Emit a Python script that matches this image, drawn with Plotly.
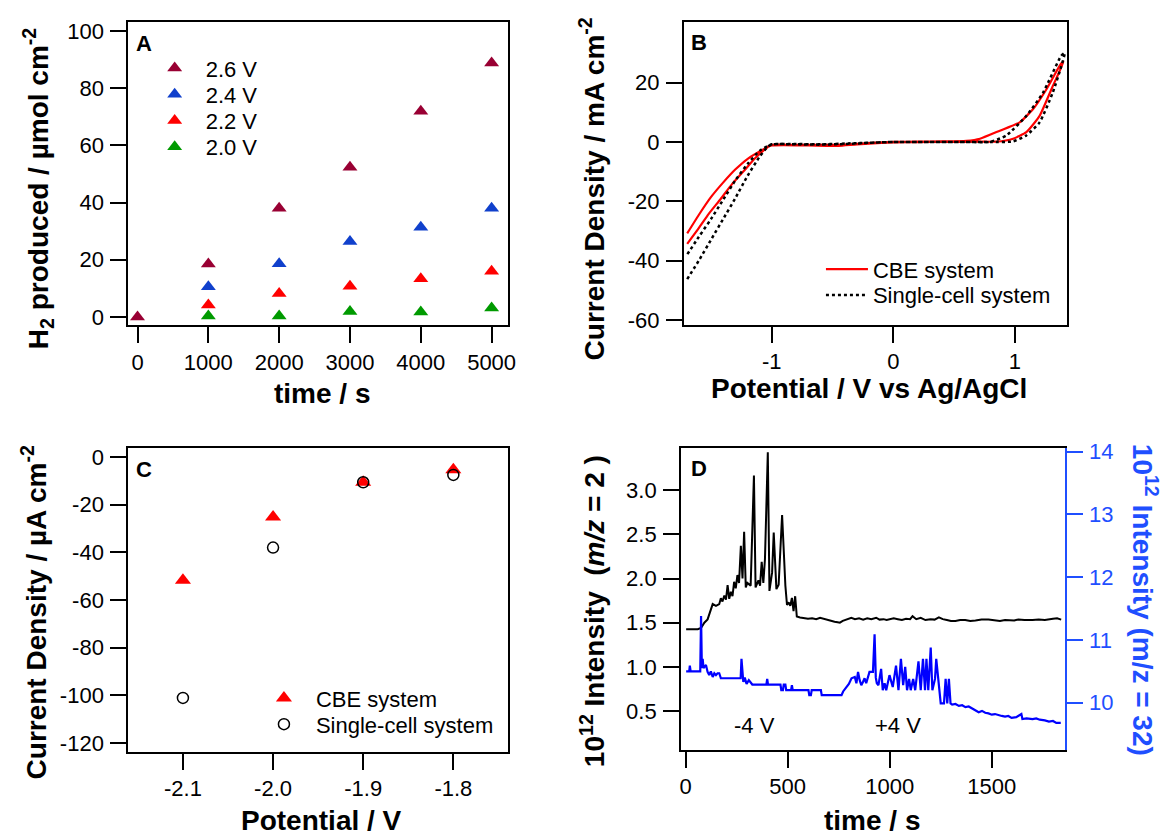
import plotly.graph_objects as go

W, H = 1171, 837
FONT = "Liberation Sans, Arial, Helvetica, sans-serif"

# ---------------- Panel A : H2 produced vs time ----------------
a_time = [0, 1000, 2000, 3000, 4000, 5000]
a_h2_26 = [0.0, 18.5, 38.0, 52.3, 71.9, 88.8]
a_time_low = [1000, 2000, 3000, 4000, 5000]
a_h2_24 = [10.6, 18.6, 26.4, 31.4, 38.0]
a_h2_22 = [4.2, 8.2, 10.7, 13.4, 16.0]
a_h2_20 = [0.3, 0.3, 1.9, 1.7, 3.1]
a_xticks = [0, 1000, 2000, 3000, 4000, 5000]
a_yticks = [0, 20, 40, 60, 80, 100]

# ---------------- Panel B : cyclic voltammograms ----------------
cbe_potential = [-1.695, -1.60, -1.518, -1.42, -1.328, -1.23, -1.137, -1.06, -1.029, -1.0,
                 -0.9, -0.7, -0.55, -0.45, -0.3, -0.1, 0.1, 0.3, 0.5, 0.7, 0.85,
                 0.985, 1.094, 1.203, 1.31, 1.40,
                 1.38, 1.257, 1.148, 1.039, 0.876, 0.713, 0.6, 0.4, 0.2, 0.0,
                 -0.2, -0.4, -0.6, -0.8, -1.0, -1.056, -1.192, -1.30, -1.40, -1.50, -1.60, -1.695]
cbe_current = [-34.3, -29.0, -24.2, -19.2, -14.3, -9.8, -5.5, -2.6, -1.6, -1.2,
               -1.1, -1.2, -1.3, -1.3, -0.8, -0.3, -0.1, 0.0, 0.0, 0.1, 0.1,
               1.1, 3.3, 8.8, 18.7, 27.0,
               26.4, 17.6, 11.0, 6.6, 3.8, 1.1, 0.4, 0.2, 0.1, 0.0,
               -0.4, -0.9, -1.0, -1.0, -1.0, -2.2, -5.5, -9.3, -13.7, -18.6, -24.6, -30.8]
sc_potential = [-1.695, -1.60, -1.50, -1.40, -1.30, -1.20, -1.10, -1.03, -1.0,
                -0.8, -0.6, -0.4, -0.2, 0.0, 0.3, 0.6, 0.8, 0.985,
                1.094, 1.203, 1.31, 1.38, 1.41,
                1.38, 1.23, 1.094, 0.93, 0.795, 0.6, 0.3, 0.0,
                -0.3, -0.6, -0.8, -1.0, -1.1, -1.2, -1.3, -1.4, -1.5, -1.6, -1.695]
sc_current = [-46.2, -40.0, -33.0, -26.0, -19.0, -11.5, -5.0, -1.5, -0.8,
              -0.8, -0.9, -0.7, -0.3, 0.0, 0.0, 0.0, 0.0, 0.2,
              2.2, 6.6, 16.5, 25.3, 30.0,
              29.0, 16.5, 8.8, 2.2, 0.0, 0.0, 0.0, 0.0,
              -0.4, -0.8, -0.7, -0.8, -3.0, -7.5, -13.0, -19.5, -26.0, -32.0, -37.9]
b_xticks = [-1, 0, 1]
b_xlabels = ["-1", "0", "1"]
b_yticks = [-60, -40, -20, 0, 20]
b_ylabels = ["-60", "-40", "-20", "0", "20"]

# ---------------- Panel C : current density vs potential ----------------
c_potential = [-2.1, -2.0, -1.9, -1.8]
c_cbe = [-51.7, -25.2, -10.6, -5.3]
c_single = [-101.1, -38.0, -10.6, -7.5]
c_xticks = [-2.1, -2.0, -1.9, -1.8]
c_xlabels = ["-2.1", "-2.0", "-1.9", "-1.8"]
c_yticks = [-120, -100, -80, -60, -40, -20, 0]
c_ylabels = ["-120", "-100", "-80", "-60", "-40", "-20", "0"]

# ---------------- Panel D : mass spec intensities ----------------
d_time_h2 = [3, 30, 60, 76, 92, 108, 125, 133, 149, 165, 173, 181, 190, 198, 206, 214, 222, 230,
             238, 246, 254, 262, 271, 279, 287, 295, 303, 319, 335, 343, 357, 365, 373, 381, 389,
             403, 411, 424, 432, 445, 456, 473, 489, 497, 505, 513, 521, 529, 537, 545, 561, 578,
             600, 620, 640, 659, 680, 700, 715, 730, 745, 756, 770, 785, 800, 812, 830, 850, 870,
             890, 910, 934, 950, 970, 985, 999, 1020, 1040, 1060, 1080, 1100, 1112, 1130, 1152,
             1175, 1200, 1220, 1241, 1260, 1280, 1300, 1322, 1345, 1370, 1395, 1420, 1450, 1484,
             1510, 1540, 1565, 1590, 1610, 1630, 1660, 1700, 1730, 1760, 1780, 1800, 1820, 1840]
d_h2 = [1.427, 1.43, 1.427, 1.44, 1.50, 1.537, 1.667, 1.711, 1.69, 1.71, 1.778, 1.74, 1.808, 1.76,
        1.926, 1.77, 1.85, 1.80, 1.963, 1.89, 2.04, 1.95, 2.37, 2.0, 2.53, 1.90, 1.95, 1.92, 3.167,
        1.90, 1.98, 1.92, 2.19, 1.95, 2.22, 3.43, 1.86, 2.07, 2.52, 1.88, 1.93, 2.72, 1.92, 1.70,
        1.73, 1.69, 1.78, 1.63, 1.80, 1.57, 1.56, 1.556,
        1.545, 1.55, 1.54, 1.556, 1.54, 1.53, 1.52, 1.51, 1.505, 1.50, 1.52, 1.53,
        1.545, 1.556, 1.54, 1.55, 1.535, 1.55, 1.54, 1.556, 1.535, 1.54, 1.53, 1.537,
        1.55, 1.54, 1.53, 1.545, 1.54, 1.574, 1.54, 1.556, 1.53, 1.54, 1.535, 1.56,
        1.54, 1.53, 1.52, 1.52, 1.53, 1.53, 1.52, 1.525, 1.535, 1.537, 1.53, 1.52,
        1.53, 1.53, 1.525, 1.537, 1.53, 1.53, 1.535, 1.53, 1.54, 1.545, 1.55, 1.535]
d_time_o2 = [3, 18, 21, 25, 68, 72, 76, 80, 84, 88, 92, 100, 108, 116, 124, 133, 141, 149, 157,
             165, 173, 190, 262, 270, 274, 279, 283, 290, 299, 310, 327, 392, 396, 400, 404, 465,
             469, 477, 481, 489, 493, 517, 521, 525, 602, 606, 614, 618, 663, 667, 764, 772, 788,
             800, 813, 829, 837, 845, 853, 861, 869, 877, 885, 893, 901, 918, 926, 932, 937, 945,
             958, 966, 975, 983, 991, 999, 1015, 1031, 1043, 1055, 1066, 1076, 1085, 1095, 1103,
             1115, 1125, 1141, 1152, 1163, 1173, 1180, 1189, 1201, 1209, 1222, 1228, 1241, 1250,
             1266, 1274, 1282, 1290, 1298, 1306, 1322, 1339, 1355, 1371, 1387, 1403, 1420, 1436,
             1452, 1468, 1484, 1500, 1516, 1533, 1549, 1565, 1581, 1597, 1620, 1645, 1650, 1670,
             1700, 1718, 1735, 1760, 1780, 1800, 1816, 1838]
d_o2 = [10.50, 10.50, 10.59, 10.50, 10.50, 10.50, 11.38, 10.55, 10.70, 10.55, 10.57, 10.60, 10.49,
        10.44, 10.50, 10.41, 10.47, 10.44, 10.47, 10.47, 10.39, 10.39, 10.39, 10.39, 10.70, 10.39,
        10.33, 10.40, 10.30, 10.36, 10.29, 10.29, 10.29, 10.38, 10.29, 10.29, 10.20, 10.20, 10.29,
        10.29, 10.20, 10.20, 10.28, 10.20, 10.20, 10.12, 10.12, 10.20, 10.20, 10.12, 10.12, 10.18,
        10.25, 10.30, 10.39, 10.41, 10.31, 10.49, 10.36, 10.28, 10.33, 10.39, 10.31, 10.40, 10.49,
        10.49, 11.09, 10.40, 10.31, 10.28, 10.54, 10.20, 10.31, 10.20, 10.30, 10.44, 10.25, 10.59,
        10.20, 10.70, 10.28, 10.57, 10.20, 10.38, 10.20, 10.38, 10.20, 10.66, 10.20, 10.70, 10.20,
        10.70, 10.20, 10.88, 10.20, 10.38, 10.70, 10.28, 9.99, 9.99, 10.38, 9.99, 10.38, 9.99,
        9.97, 9.98, 9.95, 9.96, 9.93, 9.94, 9.91, 9.89, 9.85, 9.87, 9.84, 9.83, 9.81, 9.82, 9.80,
        9.79, 9.78, 9.79, 9.76, 9.77, 9.82, 9.74, 9.75, 9.74, 9.75, 9.73, 9.72, 9.70, 9.71, 9.68,
        9.68]
d_xticks = [0, 500, 1000, 1500]
d_yticks = [0.5, 1.0, 1.5, 2.0, 2.5, 3.0]
d_ylabels = ["0.5", "1.0", "1.5", "2.0", "2.5", "3.0"]
d_y2ticks = [10, 11, 12, 13, 14]

# ---------------- colours ----------------
MAROON, BLUE, RED, GREEN = "#990033", "#1040cc", "#ff0000", "#009a00"
TRACE_BLUE, AXIS_BLUE = "#0000ff", "#1f4fff"


def pxx(p):
    return p / W


def pxy(p):
    return 1 - p / H


fig = go.Figure()

# Panel A (drawn so that 2.6 V sits on top)
for name, xs, ys, col, leg in [("2.0 V", a_time_low, a_h2_20, GREEN, "legend4"),
                               ("2.2 V", a_time_low, a_h2_22, RED, "legend3"),
                               ("2.4 V", a_time_low, a_h2_24, BLUE, "legend2"),
                               ("2.6 V", a_time, a_h2_26, MAROON, "legend")]:
    fig.add_trace(go.Scatter(x=xs, y=ys, mode="markers", name=name,
                             marker=dict(symbol="triangle-up", size=13, color=col),
                             xaxis="x", yaxis="y", legend=leg))

# Panel B
fig.add_trace(go.Scatter(x=cbe_potential, y=cbe_current, mode="lines", name="CBE system",
                         line=dict(color=RED, width=2.2, shape="spline", smoothing=0.5),
                         xaxis="x2", yaxis="y2", legend="legend5"))
fig.add_trace(go.Scatter(x=sc_potential, y=sc_current, mode="lines", name="Single-cell system",
                         line=dict(color="black", width=2.5, dash="3px,3px", shape="spline",
                                   smoothing=0.5),
                         xaxis="x2", yaxis="y2", legend="legend6"))

# Panel C
fig.add_trace(go.Scatter(x=c_potential, y=c_cbe, mode="markers", name="CBE system",
                         marker=dict(symbol="triangle-up", size=14, color=RED),
                         xaxis="x3", yaxis="y3", legend="legend7"))
fig.add_trace(go.Scatter(x=c_potential, y=c_single, mode="markers", name="Single-cell system",
                         marker=dict(symbol="circle-open", size=11, color="black",
                                     line=dict(width=1.5, color="black")),
                         xaxis="x3", yaxis="y3", legend="legend8"))

# Panel D
fig.add_trace(go.Scatter(x=d_time_h2, y=d_h2, mode="lines", line=dict(color="black", width=2),
                         xaxis="x4", yaxis="y4", showlegend=False))
fig.add_trace(go.Scatter(x=d_time_o2, y=d_o2, mode="lines", line=dict(color=TRACE_BLUE, width=2.2),
                         xaxis="x4", yaxis="y5", showlegend=False))

tickfont = dict(family=FONT, size=22, color="black")


def axis(**kw):
    base = dict(showline=True, linecolor="black", linewidth=2, mirror=True, ticks="outside",
                ticklen=16, tickwidth=2, tickcolor="black", showgrid=False, zeroline=False,
                tickfont=tickfont)
    base.update(kw)
    return base


XSO, YSO = 0, 2   # tick label standoffs
xa_dom = [pxx(127.4), pxx(510.4)]
xb_dom = [pxx(687.8), pxx(1074.5)]
xd_dom = [pxx(684.9), pxx(1071.8)]

layout = dict(
    width=W, height=H, autosize=False,
    margin=dict(l=0, r=0, t=0, b=0),
    paper_bgcolor="white", plot_bgcolor="white",
    font=dict(family=FONT, color="black", size=22),
    xaxis=axis(domain=xa_dom, anchor="y", range=[-130, 5232], tickvals=a_xticks,
               ticklabelstandoff=XSO),
    yaxis=axis(domain=[pxy(323.3), pxy(14)], anchor="x", range=[-2.85, 103.2], tickvals=a_yticks,
               ticklabelstandoff=YSO),
    xaxis2=axis(domain=xb_dom, anchor="y2", range=[-1.722, 1.431], tickvals=b_xticks,
                ticktext=b_xlabels, ticklabelstandoff=XSO),
    yaxis2=axis(domain=[pxy(322.7), pxy(14)], anchor="x2", range=[-61.5, 40.5], tickvals=b_yticks,
                ticktext=b_ylabels, ticklabelstandoff=YSO),
    xaxis3=axis(domain=xa_dom, anchor="y3", range=[-2.1606, -1.7393], tickvals=c_xticks,
                ticktext=c_xlabels, ticklabelstandoff=XSO),
    yaxis3=axis(domain=[pxy(758.3), pxy(448.3)], anchor="x3", range=[-123.7, 3.9],
                tickvals=c_yticks, ticktext=c_ylabels, ticklabelstandoff=YSO),
    xaxis4=axis(domain=xd_dom, anchor="y4", range=[-22, 1857], tickvals=d_xticks,
                ticklabelstandoff=XSO),
    yaxis4=axis(domain=[pxy(756), pxy(448.3)], anchor="x4", range=[0.063, 3.482], mirror=False,
                tickvals=d_yticks, ticktext=d_ylabels, ticklabelstandoff=YSO),
    yaxis5=axis(overlaying="y4", side="right", anchor="x4", range=[9.255, 14.06], mirror=False,
                tickvals=d_y2ticks, linecolor=AXIS_BLUE, tickcolor=AXIS_BLUE,
                tickfont=dict(family=FONT, size=22, color=AXIS_BLUE), ticklabelstandoff=YSO),
)


def legend_at(x_left, y_mid, width):
    return dict(x=pxx(x_left), y=pxy(y_mid), xanchor="left", yanchor="middle",
                xref="paper", yref="paper", itemwidth=width, bgcolor="rgba(0,0,0,0)",
                borderwidth=0, font=dict(family=FONT, size=22, color="black"))


# one legend per entry so that the rows sit exactly where the original puts them
layout["legend"] = legend_at(142.9, 61.5, 52)
layout["legend2"] = legend_at(142.9, 88.2, 52)
layout["legend3"] = legend_at(142.9, 114.9, 52)
layout["legend4"] = legend_at(142.9, 141.6, 52)
layout["legend5"] = legend_at(826.0, 266.5, 42)
layout["legend6"] = legend_at(826.0, 292.7, 42)
layout["legend7"] = legend_at(252.1, 703.7, 54)
layout["legend8"] = legend_at(252.1, 730.3, 54)

fig.update_layout(**layout)

title_font = dict(family=FONT, size=28, color="black")


def ann(x, y, text, angle=0, font=None, **kw):
    d = dict(x=pxx(x), y=pxy(y), xref="paper", yref="paper", text=text, showarrow=False,
             textangle=angle, xanchor="center", yanchor="middle", font=font or title_font)
    d.update(kw)
    return d


label_font = dict(family=FONT, size=22, color="black")
annotations = [
    ann(37.0, 184, "<b>H<sub>2</sub> produced / µmol cm<sup>-2</sup></b>", -90),
    ann(322.7, 393, "<b>time / s</b>"),
    ann(596.0, 184, "<b>Current Density / mA cm<sup>-2</sup></b>", -90),
    ann(874.0, 388, "<b>Potential / V vs Ag/AgCl</b>"),
    ann(32.0, 616.5, "<b>Current Density / µA cm<sup>-2</sup></b>", -90),
    ann(322.7, 828, "<b>Potential / V</b>"),
    ann(596.0, 615, "<b>10<sup>12</sup> Intensity  (<i>m/z</i> = 2 )</b>", -90),
    ann(877.8, 828, "<b>time / s</b>"),
    ann(1153.0, 603.5, "<b>10<sup>12</sup> Intensity (m/z = 32)</b>", 90,
        font=dict(family=FONT, size=28, color=AXIS_BLUE)),
    ann(143, 36, "<b>A</b>", font=dict(family=FONT, size=22, color="black")),
    ann(703, 35, "<b>B</b>", font=dict(family=FONT, size=22, color="black")),
    ann(143, 470, "<b>C</b>", font=dict(family=FONT, size=22, color="black")),
    ann(703, 469, "<b>D</b>", font=dict(family=FONT, size=22, color="black")),
    dict(x=338, y=0.333, xref="x4", yref="y4", text="-4 V", showarrow=False,
         xanchor="center", yanchor="middle", font=label_font),
    dict(x=1042, y=0.333, xref="x4", yref="y4", text="+4 V", showarrow=False,
         xanchor="center", yanchor="middle", font=label_font),
]
fig.update_layout(annotations=annotations)

# the page's default 8px body margin would shift the whole figure; remove it
fig.write_html("out.html", config={"displayModeBar": False},
               post_script="document.body.style.margin='0px';")
